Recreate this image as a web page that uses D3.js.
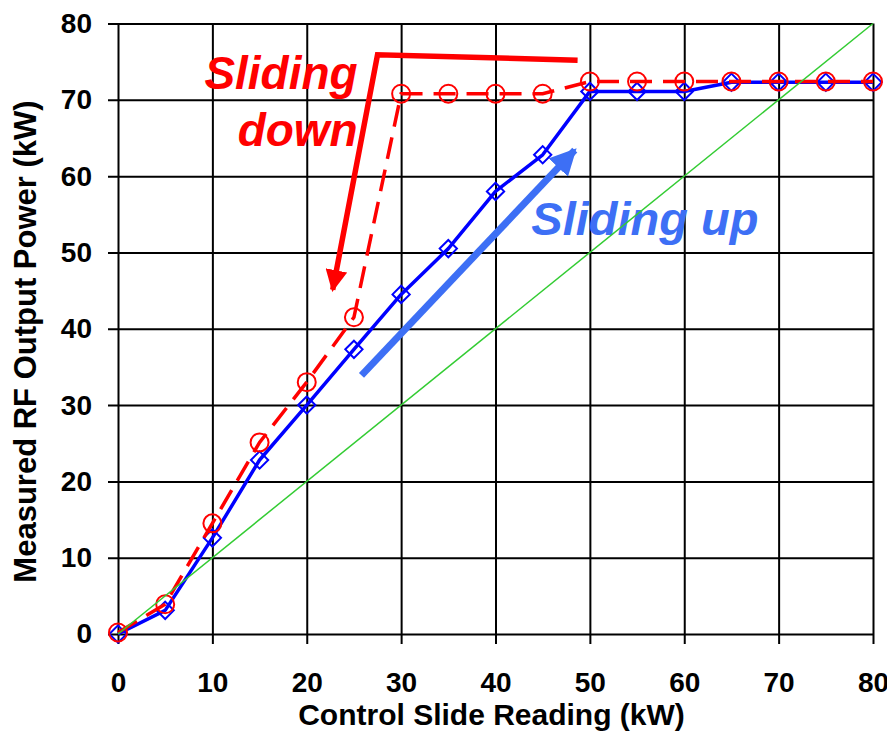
<!DOCTYPE html>
<html>
<head>
<meta charset="utf-8">
<script src="https://cdn.jsdelivr.net/npm/d3@7/dist/d3.min.js"></script>
<style>
  html, body { margin: 0; padding: 0; background: #fff; }
  svg { display: block; font-family: "Liberation Sans", Arial, sans-serif; }
</style>
</head>
<body>
<svg id="chart" width="887" height="739"></svg>
<script>
// Control slide reading (kW)
const slideReading = [0, 5, 10, 15, 20, 25, 30, 35, 40, 45, 50, 55, 60, 65, 70, 75, 80];
// Measured RF output power while sliding the control up (kW)
const powerSlidingUp = [0, 3.1, 12.6, 22.8, 30.0, 37.3, 44.5, 50.5, 58.0, 62.8, 71.1, 71.1, 71.1, 72.3, 72.3, 72.3, 72.3];
// Measured RF output power while sliding the control down (kW)
const powerSlidingDown = [0.2, 3.9, 14.5, 25.1, 33.0, 41.5, 70.8, 70.8, 70.8, 70.8, 72.4, 72.4, 72.4, 72.4, 72.4, 72.4, 72.4];
// Ideal response: output equals the slide reading
const idealLine = [[0, 0], [80, 80]];

const xTicks = [0, 10, 20, 30, 40, 50, 60, 70, 80];
const yTicks = [0, 10, 20, 30, 40, 50, 60, 70, 80];

// Annotation paths, in data units
const downArrowPath = [[48.7, 75.2], [27.5, 75.9], [22.75, 45.1]];
const upArrowPath = [[25.8, 33.9], [48.4, 63.4]];

const svg = d3.select("#chart");
const margin = { top: 23.5, right: 14, bottom: 105, left: 118 };
const W = 887, H = 739;
const innerW = W - margin.left - margin.right;
const innerH = H - margin.top - margin.bottom;

const x = d3.scaleLinear().domain([0, 80]).range([0, innerW]);
const y = d3.scaleLinear().domain([0, 80]).range([innerH, 0]);

const g = svg.append("g").attr("transform", `translate(${margin.left},${margin.top})`);

// Grid + axes (grid lines extend past the frame as outer ticks)
const tickOut = 10;
const yAxis = g.append("g")
  .attr("transform", `translate(${-tickOut},0)`)
  .call(d3.axisLeft(y).tickValues(yTicks).tickSize(-(innerW + tickOut)).tickPadding(16).tickFormat(d3.format("d")));
const xAxis = g.append("g")
  .attr("transform", `translate(0,${innerH + tickOut})`)
  .call(d3.axisBottom(x).tickValues(xTicks).tickSize(-(innerH + tickOut)).tickPadding(28).tickFormat(d3.format("d")));

[yAxis, xAxis].forEach(ax => {
  ax.select(".domain").remove();
  ax.selectAll(".tick line").attr("stroke", "#000").attr("stroke-width", 2);
  ax.selectAll(".tick text")
    .attr("fill", "#000")
    .attr("font-size", 28)
    .attr("font-weight", "bold")
    .attr("font-family", "'Liberation Sans', Arial, sans-serif");
});

// Axis titles
svg.append("text")
  .attr("x", 491.5).attr("y", 725)
  .attr("text-anchor", "middle")
  .attr("font-size", 30).attr("font-weight", "bold")
  .text("Control Slide Reading (kW)");

svg.append("text")
  .attr("transform", "translate(36,341.5) rotate(-90)")
  .attr("text-anchor", "middle")
  .attr("font-size", 31).attr("font-weight", "bold")
  .text("Measured RF Output Power (kW)");

// Data lines
const line = d3.line().x(d => x(d[0])).y(d => y(d[1]));
const upPts = slideReading.map((s, i) => [s, powerSlidingUp[i]]);
const downPts = slideReading.map((s, i) => [s, powerSlidingDown[i]]);

g.append("path").datum(upPts)
  .attr("d", line)
  .attr("fill", "none").attr("stroke", "#0000ff").attr("stroke-width", 3.5)
  .attr("stroke-linejoin", "round");

const diamond = d3.symbol().type(d3.symbolDiamond2).size(190);
g.selectAll(".up-marker").data(upPts).enter().append("path")
  .attr("class", "up-marker")
  .attr("transform", d => `translate(${x(d[0])},${y(d[1])})`)
  .attr("d", diamond)
  .attr("fill", "none").attr("stroke", "#0000ff").attr("stroke-width", 2);

g.append("path").datum(downPts)
  .attr("d", line)
  .attr("fill", "none").attr("stroke", "#ff0000").attr("stroke-width", 3.5)
  .attr("stroke-dasharray", "22,11");

g.selectAll(".down-marker").data(downPts).enter().append("circle")
  .attr("class", "down-marker")
  .attr("cx", d => x(d[0])).attr("cy", d => y(d[1]))
  .attr("r", 9)
  .attr("fill", "none").attr("stroke", "#ff0000").attr("stroke-width", 2);

// Annotations
const defs = svg.append("defs");
defs.append("marker")
  .attr("id", "redHead").attr("viewBox", "0 0 10 10")
  .attr("refX", 9).attr("refY", 5)
  .attr("markerWidth", 4).attr("markerHeight", 4)
  .attr("markerUnits", "strokeWidth").attr("orient", "auto")
  .append("path").attr("d", "M0,0 L10,5 L0,10 Z").attr("fill", "#ff0000");
defs.append("marker")
  .attr("id", "blueHead").attr("viewBox", "0 0 10 10")
  .attr("refX", 9).attr("refY", 5)
  .attr("markerWidth", 3.8).attr("markerHeight", 3.8)
  .attr("markerUnits", "strokeWidth").attr("orient", "auto")
  .append("path").attr("d", "M0,0 L10,5 L0,10 Z").attr("fill", "#3d6ff5");

g.append("path").datum(downArrowPath)
  .attr("d", line)
  .attr("fill", "none").attr("stroke", "#ff0000").attr("stroke-width", 5.5)
  .attr("stroke-linejoin", "miter")
  .attr("marker-end", "url(#redHead)");

g.append("path").datum(upArrowPath)
  .attr("d", line)
  .attr("fill", "none").attr("stroke", "#3d6ff5").attr("stroke-width", 7)
  .attr("marker-end", "url(#blueHead)");

const downLabel = g.append("text")
  .attr("text-anchor", "end")
  .attr("font-size", 46).attr("font-weight", "bold").attr("font-style", "italic")
  .attr("fill", "#ff0000");
downLabel.append("tspan").attr("x", x(25.4)).attr("y", y(71.4)).text("Sliding");
downLabel.append("tspan").attr("x", x(25.4)).attr("y", y(63.9)).text("down");

g.append("text")
  .attr("x", x(43.8)).attr("y", y(52.3))
  .attr("font-size", 47).attr("font-weight", "bold").attr("font-style", "italic")
  .attr("fill", "#3d6ff5")
  .text("Sliding up");

// Ideal 1:1 reference line
g.append("path").datum(idealLine)
  .attr("d", line)
  .attr("fill", "none").attr("stroke", "#33cc33").attr("stroke-width", 1.5);
</script>
</body>
</html>
